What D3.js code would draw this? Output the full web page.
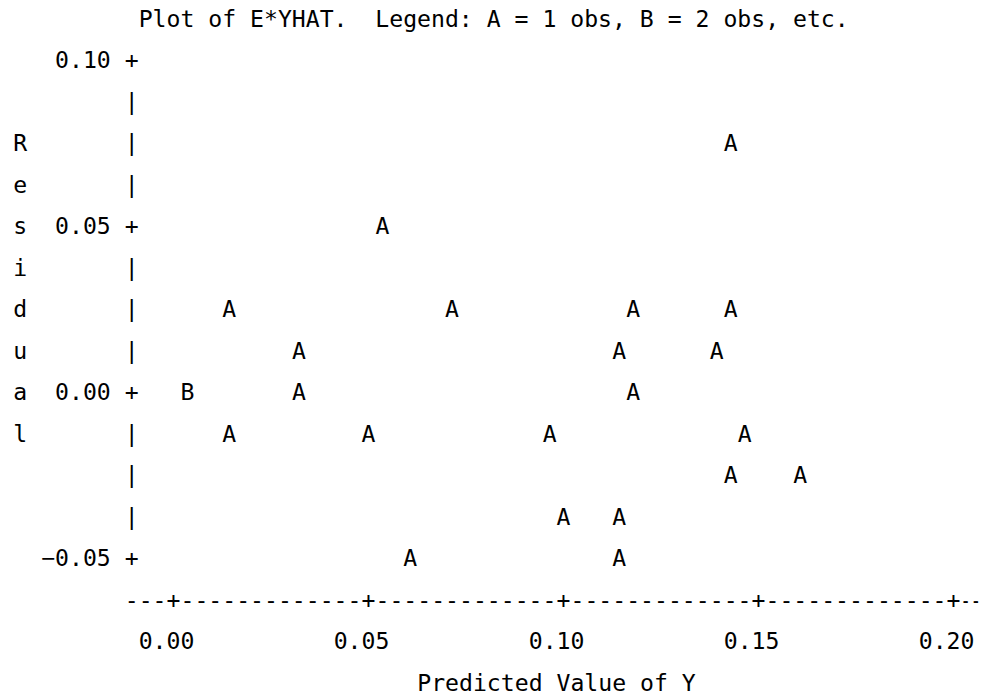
<!DOCTYPE html>
<html>
<head>
<meta charset="utf-8">
<script src="https://cdn.jsdelivr.net/npm/d3@7"></script>
<style>
	html, body { margin: 0; padding: 0; background: #fff; }
	svg text { font-family: "DejaVu Sans Mono", "Liberation Mono", monospace; font-size: 23.14px; fill: #000; white-space: pre; }
</style>
</head>
<body>
<svg id="chart" width="984" height="696"></svg>
<script>
// Observations (predicted value of Y, residual)
var yhat = [0.143, 0.054, 0.014, 0.071, 0.118, 0.143, 0.032, 0.114, 0.139,
	0.003, 0.004, 0.032, 0.118, 0.014, 0.050, 0.096, 0.146, 0.143, 0.161,
	0.100, 0.114, 0.061, 0.114];
var resid = [0.074, 0.051, 0.026, 0.024, 0.027, 0.023, 0.013, 0.011, 0.014,
	0.002, -0.001, -0.002, 0.003, -0.012, -0.014, -0.011, -0.013, -0.026, -0.024,
	-0.037, -0.039, -0.049, -0.051];

var xTicks = [0, 0.05, 0.10, 0.15, 0.20],
	yTicks = [0.10, 0.05, 0.00, -0.05];

var title = 'Plot of E*YHAT.  Legend: A = 1 obs, B = 2 obs, etc.',
	xLabel = 'Predicted Value of Y',
	yLabel = 'Residual';

// Character grid (line printer)
var cw = 13.93, rh = 41.5,
	col0 = 131.7, row0 = 18.5,
	base = 8.4,
	width = 984;

function colX(c) { return col0 + c * cw; }
function rowY(r) { return row0 + r * rh; }

var x = d3.scaleLinear().domain([0, 0.20]).range([colX(3), colX(59)]),
	y = d3.scaleLinear().domain([-0.05, 0.10]).range([rowY(13), rowY(1)]);

function toCol(v) { return Math.round((x(v) - col0) / cw); }
function toRow(v) { return Math.round((y(v) - row0) / rh); }

var svg = d3.select('#chart');

function put(str, c, r, anchor) {
	return svg.append('text')
		.attr('x', colX(c) - (anchor == 'end' ? -cw / 2 : cw / 2))
		.attr('y', rowY(r) + base)
		.attr('text-anchor', anchor || 'start')
		.text(str);
}

// Title
put(title, 1, 0);

// Vertical axis
var tickRows = yTicks.map(toRow);
d3.range(toRow(0.10), toRow(-0.05) + 1).forEach(function(r) {
	put(tickRows.indexOf(r) >= 0 ? '+' : '|', 0, r);
});
yTicks.forEach(function(t) {
	put(d3.format('.2f')(t), -2, toRow(t), 'end');
});

// Y label, one letter per row
var yStart = toRow(0.10) + Math.floor((tickRows[3] - tickRows[0] + 1 - yLabel.length) / 2);
yLabel.split('').forEach(function(ch, i) {
	put(ch, -8, yStart + i);
});

// Horizontal axis: one segment per tick, the trailing dashes squeezed to fit the page
var axisRow = toRow(-0.05) + 1,
	tickCols = xTicks.map(toCol),
	prev = 0;
tickCols.forEach(function(c) {
	put(d3.range(prev, c).map(function() { return '-'; }).join('') + '+', prev, axisRow);
	prev = c + 1;
});
var tailX = colX(prev) - cw / 2,
	sx = (width - tailX - 3) / (2 * cw);
svg.append('text')
	.attr('transform', 'translate(' + tailX + ',' + (rowY(axisRow) + base) + ') scale(' + sx + ',1)')
	.text('--');

xTicks.forEach(function(t) {
	put(d3.format('.2f')(t), toCol(t) - 2, axisRow + 1);
});
put(xLabel, Math.round((tickCols[0] + tickCols[4]) / 2 - xLabel.length / 2), axisRow + 2);

// Count observations falling in each cell, letter by count
var cells = d3.rollups(d3.range(yhat.length), function(v) { return v.length; },
	function(i) { return toCol(yhat[i]) + ',' + toRow(resid[i]); });

svg.selectAll('text.obs')
	.data(cells)
	.enter().append('text')
	.attr('class', 'obs')
	.attr('x', function(d) { return colX(+d[0].split(',')[0]); })
	.attr('y', function(d) { return rowY(+d[0].split(',')[1]) + base; })
	.attr('text-anchor', 'middle')
	.text(function(d) { return String.fromCharCode(64 + d[1]); });
</script>
</body>
</html>
